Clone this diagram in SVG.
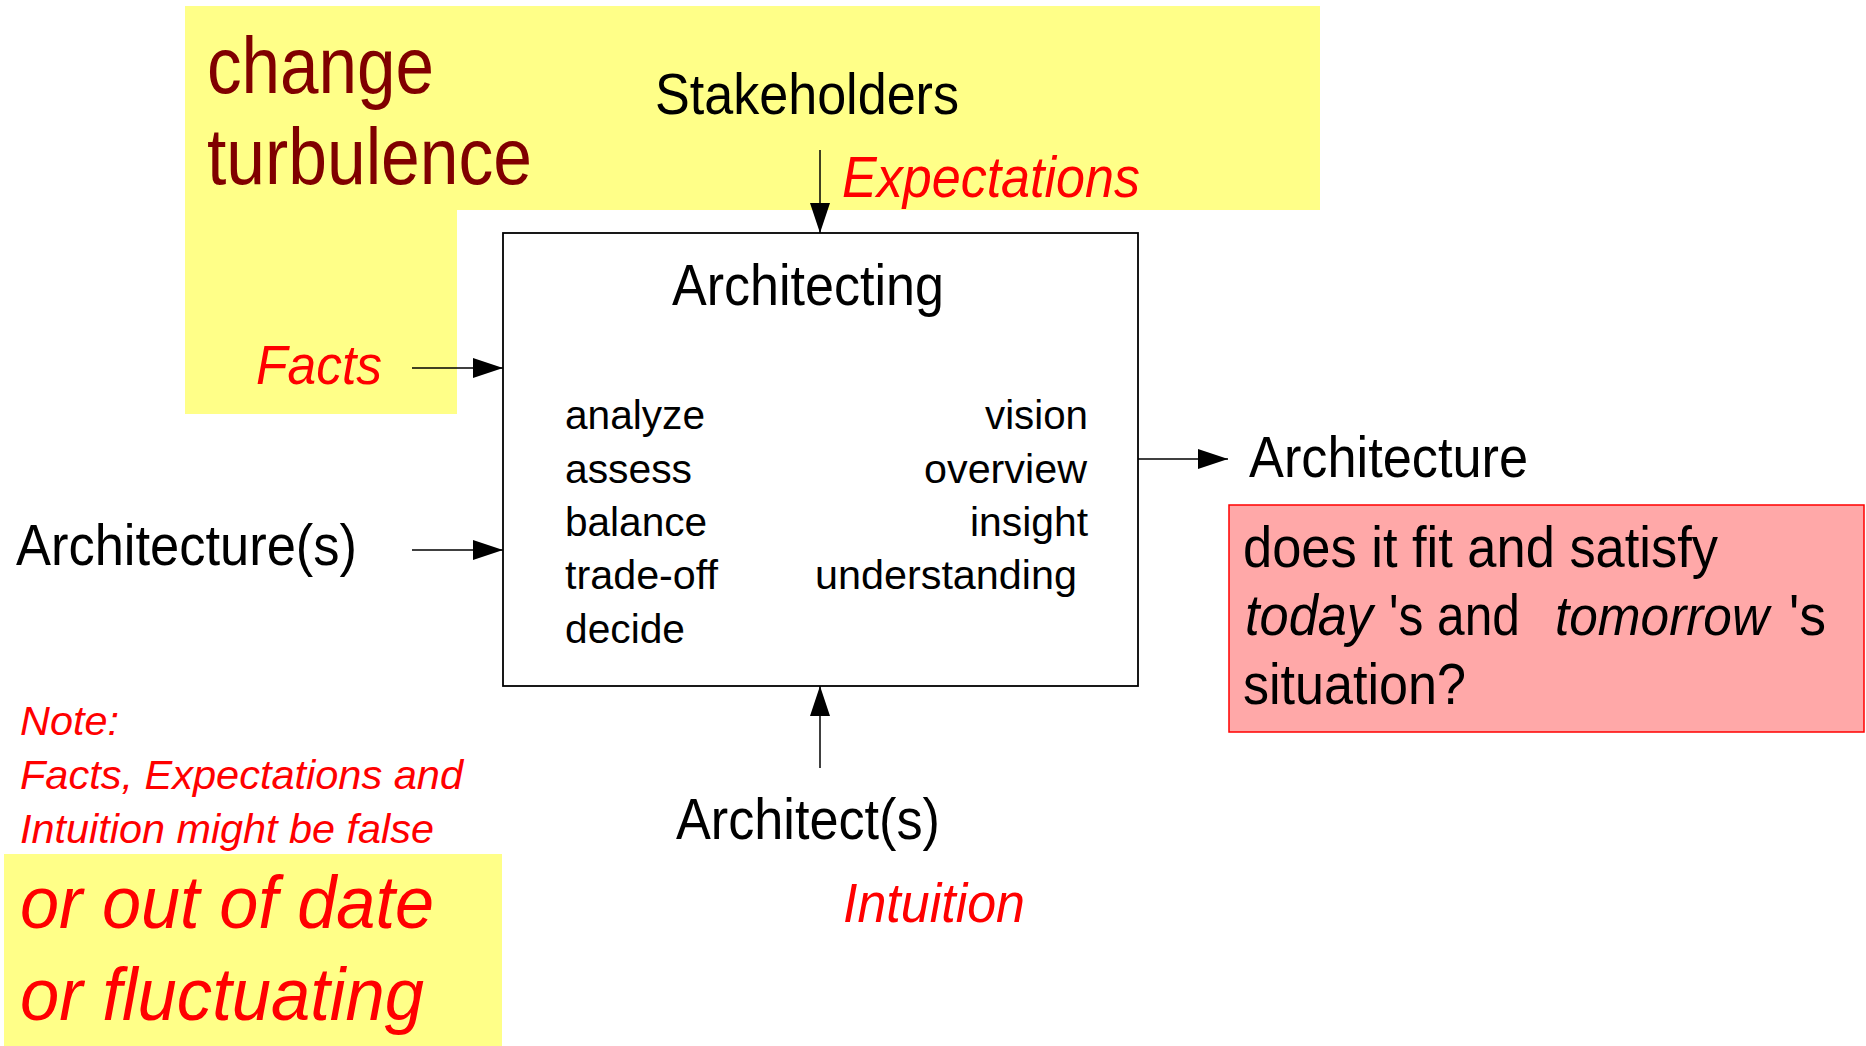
<svg xmlns="http://www.w3.org/2000/svg" width="1866" height="1046" viewBox="0 0 1866 1046">
<style>
text{font-family:"Liberation Sans",Arial,Helvetica,sans-serif;}
.blk{fill:#000;}
.red{fill:#ff0000;font-style:italic;}
.mar{fill:#800000;}
.it{font-style:italic;}
.conn{stroke:#000;stroke-width:1.5;fill:none;}
</style>
<defs>
<marker id="ah" viewBox="0 0 30 20" refX="30" refY="10" markerWidth="30" markerHeight="20" markerUnits="userSpaceOnUse" orient="auto">
<path d="M0,0 L30,10 L0,20 Z" fill="#000"/>
</marker>
</defs>
<g id="bg-change">
<path d="M185,6 H1320 V210 H457 V414 H185 Z" fill="#ffff88"/>
<text class="mar" x="207" y="93" font-size="80" textLength="227" lengthAdjust="spacingAndGlyphs">change</text>
<text class="mar" x="207" y="184" font-size="80" textLength="325" lengthAdjust="spacingAndGlyphs">turbulence</text>
</g>
<g id="stakeholders">
<text class="blk" x="655" y="114" font-size="58" textLength="304" lengthAdjust="spacingAndGlyphs">Stakeholders</text>
<text class="red" x="842" y="197" font-size="58" textLength="298" lengthAdjust="spacingAndGlyphs">Expectations</text>
</g>
<g id="facts">
<text class="red" x="256" y="384" font-size="56" textLength="126" lengthAdjust="spacingAndGlyphs">Facts</text>
</g>
<g id="architecting">
<rect x="503" y="233" width="635" height="453" fill="#fff" stroke="#000" stroke-width="1.8"/>
<text class="blk" x="672" y="305" font-size="58" textLength="272" lengthAdjust="spacingAndGlyphs">Architecting</text>
<text class="blk" x="565" y="429" font-size="40" textLength="140" lengthAdjust="spacingAndGlyphs">analyze</text>
<text class="blk" x="565" y="483" font-size="40" textLength="127" lengthAdjust="spacingAndGlyphs">assess</text>
<text class="blk" x="565" y="536" font-size="40" textLength="142" lengthAdjust="spacingAndGlyphs">balance</text>
<text class="blk" x="565" y="589" font-size="40" textLength="153" lengthAdjust="spacingAndGlyphs">trade-off</text>
<text class="blk" x="565" y="643" font-size="40" textLength="120" lengthAdjust="spacingAndGlyphs">decide</text>
<text class="blk" x="985" y="429" font-size="40" textLength="103" lengthAdjust="spacingAndGlyphs">vision</text>
<text class="blk" x="924" y="483" font-size="40" textLength="163" lengthAdjust="spacingAndGlyphs">overview</text>
<text class="blk" x="970" y="536" font-size="40" textLength="118" lengthAdjust="spacingAndGlyphs">insight</text>
<text class="blk" x="815" y="589" font-size="40" textLength="262" lengthAdjust="spacingAndGlyphs">understanding</text>
</g>
<g id="architectures-in">
<text class="blk" x="16" y="565" font-size="58" textLength="341" lengthAdjust="spacingAndGlyphs">Architecture(s)</text>
</g>
<g id="architecture-out">
<text class="blk" x="1249" y="477" font-size="58" textLength="279" lengthAdjust="spacingAndGlyphs">Architecture</text>
</g>
<g id="fit-question">
<rect x="1229" y="505" width="635" height="227" fill="#ffa8a8" stroke="#ff0000" stroke-width="1.5"/>
<text class="blk" x="1243" y="567" font-size="57" textLength="475" lengthAdjust="spacingAndGlyphs">does it fit and satisfy</text>
<text class="blk it" x="1245" y="635" font-size="57" textLength="128" lengthAdjust="spacingAndGlyphs">today</text>
<text class="blk" x="1389" y="635" font-size="57" textLength="131" lengthAdjust="spacingAndGlyphs">'s and</text>
<text class="blk it" x="1555" y="635" font-size="55" textLength="214" lengthAdjust="spacingAndGlyphs">tomorrow</text>
<text class="blk" x="1789" y="635" font-size="57" textLength="37" lengthAdjust="spacingAndGlyphs">'s</text>
<text class="blk" x="1243" y="704" font-size="57" textLength="223" lengthAdjust="spacingAndGlyphs">situation?</text>
</g>
<g id="architects">
<text class="blk" x="676" y="839" font-size="58" textLength="264" lengthAdjust="spacingAndGlyphs">Architect(s)</text>
<text class="red" x="843" y="922" font-size="56" textLength="182" lengthAdjust="spacingAndGlyphs">Intuition</text>
</g>
<g id="note">
<text class="red" x="20" y="735" font-size="40" textLength="99" lengthAdjust="spacingAndGlyphs">Note:</text>
<text class="red" x="20" y="789" font-size="40" textLength="443" lengthAdjust="spacingAndGlyphs">Facts, Expectations and</text>
<text class="red" x="20" y="843" font-size="40" textLength="414" lengthAdjust="spacingAndGlyphs">Intuition might be false</text>
</g>
<g id="note-highlight">
<rect x="4" y="854" width="498" height="192" fill="#ffff88"/>
<text class="red" x="20" y="928" font-size="74" textLength="414" lengthAdjust="spacingAndGlyphs">or out of date</text>
<text class="red" x="20" y="1020" font-size="74" textLength="404" lengthAdjust="spacingAndGlyphs">or fluctuating</text>
</g>
<g id="connectors">
<line class="conn" x1="820" y1="150" x2="820" y2="233" marker-end="url(#ah)"/>
<line class="conn" x1="412" y1="368" x2="503" y2="368" marker-end="url(#ah)"/>
<line class="conn" x1="412" y1="550" x2="503" y2="550" marker-end="url(#ah)"/>
<line class="conn" x1="1138" y1="459" x2="1228" y2="459" marker-end="url(#ah)"/>
<line class="conn" x1="820" y1="768" x2="820" y2="686" marker-end="url(#ah)"/>
</g>
</svg>
